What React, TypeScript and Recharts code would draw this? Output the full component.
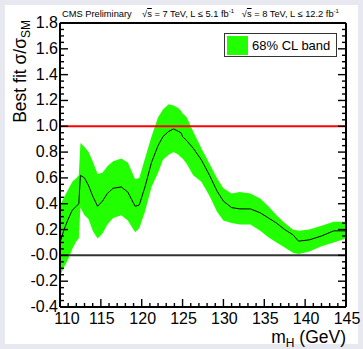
import React from 'react';
import { ComposedChart, Area, Line, XAxis, YAxis, ReferenceLine, Legend } from 'recharts';

// best fit signal strength vs Higgs mass
const masses = [110, 110.5, 111, 111.5, 112, 112.3, 112.5, 113, 113.5, 114, 114.6, 115.2, 115.8, 116.5, 117.5, 118.3, 119.2, 119.7, 120.4, 121.2, 122, 122.6, 123.3, 123.9, 124.5, 124.8, 125, 125.5, 126.3, 127.3, 128.3, 129.2, 130, 131, 132, 133.3, 134.5, 135.5, 136.5, 137.5, 138.5, 139.2, 140.5, 142, 143.5, 145];
const bestFit = [0.10, 0.20, 0.28, 0.35, 0.38, 0.40, 0.62, 0.60, 0.54, 0.46, 0.38, 0.42, 0.48, 0.52, 0.53, 0.49, 0.38, 0.39, 0.53, 0.72, 0.85, 0.92, 0.96, 0.98, 0.96, 0.95, 0.92, 0.89, 0.83, 0.74, 0.62, 0.50, 0.42, 0.37, 0.36, 0.36, 0.33, 0.29, 0.25, 0.20, 0.16, 0.11, 0.12, 0.15, 0.19, 0.19];
const bandLow = [-0.16, -0.09, -0.03, 0.05, 0.11, 0.13, 0.37, 0.31, 0.28, 0.19, 0.13, 0.17, 0.24, 0.29, 0.31, 0.27, 0.18, 0.21, 0.34, 0.53, 0.64, 0.74, 0.78, 0.80, 0.78, 0.76, 0.75, 0.71, 0.62, 0.57, 0.46, 0.34, 0.27, 0.25, 0.24, 0.24, 0.19, 0.14, 0.10, 0.06, 0.02, 0.01, 0.03, 0.07, 0.10, 0.13];
const bandHigh = [0.39, 0.45, 0.51, 0.57, 0.60, 0.62, 0.87, 0.84, 0.80, 0.73, 0.63, 0.64, 0.69, 0.73, 0.75, 0.72, 0.59, 0.60, 0.75, 0.92, 1.07, 1.13, 1.17, 1.16, 1.14, 1.12, 1.10, 1.07, 0.96, 0.83, 0.71, 0.60, 0.52, 0.48, 0.49, 0.48, 0.44, 0.38, 0.31, 0.25, 0.20, 0.19, 0.20, 0.23, 0.26, 0.26];

const xMajorTicks = [110, 115, 120, 125, 130, 135, 140, 145];
const yMajorTicks = [-0.4, -0.2, 0, 0.2, 0.4, 0.6, 0.8, 1.0, 1.2, 1.4, 1.6, 1.8];
const yTickLabels = ['-0.4', '-0.2', '-0.0', '0.2', '0.4', '0.6', '0.8', '1.0', '1.2', '1.4', '1.6', '1.8'];
const bandName = '68% CL band';

const data = masses.map((m, i) => ({ m, best: bestFit[i], band: [bandLow[i], bandHigh[i]] }));

const round = (v: number) => Math.round(v * 1000) / 1000;
const xTicks = xMajorTicks.flatMap((t, i) =>
  i < xMajorTicks.length - 1 ? [0, 1, 2, 3, 4].map((k) => t + k) : [t]
);
const yTicks = yMajorTicks.flatMap((t, i) =>
  i < yMajorTicks.length - 1 ? [0, 1, 2, 3].map((k) => round(t + k * 0.05)) : [t]
);
const yLabel = (v: number) => {
  const i = yMajorTicks.findIndex((t) => Math.abs(t - v) < 1e-6);
  return i >= 0 ? yTickLabels[i] : null;
};
const isXMajor = (v: number) => xMajorTicks.includes(v);

const FONT = '"Liberation Sans", Arial, Helvetica, sans-serif';
const GREEN = '#22ff00';
const TICK = { stroke: '#000', strokeWidth: 1.4 };

const LeftTick = (p: any) => {
  const lab = yLabel(p.payload.value);
  return (
    <g>
      <line x1={p.x} x2={p.x + (lab ? 8 : 4)} y1={p.y} y2={p.y} {...TICK} />
      {lab && (
        <text x={p.x - 2} y={p.y} dy={5} textAnchor="end" fontSize={16} fontFamily={FONT} fill="#000">
          {lab}
        </text>
      )}
    </g>
  );
};
const RightTick = (p: any) => {
  const major = yLabel(p.payload.value) !== null;
  return <line x1={p.x} x2={p.x - (major ? 8 : 4)} y1={p.y} y2={p.y} {...TICK} />;
};
const BottomTick = (p: any) => {
  const major = isXMajor(p.payload.value);
  // first label sits a little right of its tick, as in the original
  const nudge = p.payload.value === xMajorTicks[0] ? 7 : 1;
  return (
    <g>
      <line x1={p.x} x2={p.x} y1={p.y} y2={p.y - (major ? 8 : 4)} {...TICK} />
      {major && (
        <text x={p.x + nudge} y={p.y + 17} textAnchor="middle" fontSize={16} fontFamily={FONT} fill="#000">
          {p.payload.value}
        </text>
      )}
    </g>
  );
};
const TopTick = (p: any) => {
  const major = isXMajor(p.payload.value);
  return <line x1={p.x} x2={p.x} y1={p.y} y2={p.y + (major ? 8 : 4)} {...TICK} />;
};

const YTitle = () => (
  <text transform="translate(26,20) rotate(-90)" textAnchor="end" fontSize={17.5} fontFamily={FONT} fill="#000">
    Best fit σ/σ
    <tspan fontSize={12} dy={4}>SM</tspan>
  </text>
);
const XTitle = () => (
  <text x={346} y={343} textAnchor="end" fontSize={17.5} fontFamily={FONT} fill="#000">
    m<tspan fontSize={12} dy={4}>H</tspan>
    <tspan dy={-4}> (GeV)</tspan>
  </text>
);

const LegendBox = () => (
  <div
    style={{
      boxSizing: 'border-box',
      width: 113,
      height: 24,
      border: '1.5px solid #333',
      background: '#fff',
      display: 'flex',
      alignItems: 'center',
      fontFamily: FONT,
      fontSize: 13,
      color: '#000',
    }}
  >
    <div style={{ width: 21, height: 19, background: GREEN, marginLeft: 2, marginRight: 4 }} />
    <span>{bandName}</span>
  </div>
);

const Header = () => (
  <div
    style={{
      position: 'absolute',
      left: 62,
      top: 8,
      fontFamily: FONT,
      fontSize: 9.3,
      whiteSpace: 'nowrap',
      color: '#000',
    }}
  >
    CMS Preliminary&nbsp;&nbsp;&nbsp;
    √<span style={{ textDecoration: 'overline' }}>s</span> = 7 TeV, L ≤ 5.1 fb<sup style={{ fontSize: 6 }}>-1</sup>&nbsp;&nbsp;
    √<span style={{ textDecoration: 'overline' }}>s</span> = 8 TeV, L ≤ 12.2 fb<sup style={{ fontSize: 6 }}>-1</sup>
  </div>
);

export default function App() {
  return (
    <div style={{ position: 'absolute', left: 0, top: 0, width: 363, height: 349, background: '#e8e9f0' }}>
      <div style={{ position: 'absolute', left: 5, top: 5, width: 353, height: 339, background: '#fff' }} />
      <div style={{ position: 'absolute', left: 0, top: 0 }}>
        <ComposedChart width={363} height={349} data={data} margin={{ top: 0, right: 0, bottom: 22, left: 0 }}>
          <XAxis
            dataKey="m"
            type="number"
            domain={[110, 145]}
            ticks={xTicks}
            interval={0}
            allowDataOverflow
            height={20}
            tickSize={0}
            tickMargin={0}
            tickLine={false}
            axisLine={{ stroke: '#000', strokeWidth: 2 }}
            tick={BottomTick}
            label={{ content: XTitle }}
          />
          <XAxis
            xAxisId="top"
            orientation="top"
            type="number"
            domain={[110, 145]}
            ticks={xTicks}
            interval={0}
            allowDataOverflow
            height={23}
            tickSize={0}
            tickMargin={0}
            tickLine={false}
            axisLine={{ stroke: '#000', strokeWidth: 2 }}
            tick={TopTick}
          />
          <YAxis
            type="number"
            domain={[-0.4, 1.8]}
            ticks={yTicks}
            interval={0}
            allowDataOverflow
            width={60}
            tickSize={0}
            tickMargin={0}
            tickLine={false}
            axisLine={{ stroke: '#000', strokeWidth: 2 }}
            tick={LeftTick}
            label={{ content: YTitle }}
          />
          <YAxis
            yAxisId="right"
            orientation="right"
            type="number"
            domain={[-0.4, 1.8]}
            ticks={yTicks}
            interval={0}
            allowDataOverflow
            width={17}
            tickSize={0}
            tickMargin={0}
            tickLine={false}
            axisLine={{ stroke: '#000', strokeWidth: 2 }}
            tick={RightTick}
          />
          <Area
            dataKey="band"
            name={bandName}
            type="linear"
            stroke="none"
            fill={GREEN}
            fillOpacity={1}
            isAnimationActive={false}
          />
          <Line dataKey="best" type="linear" stroke="#000" strokeWidth={1} dot={false} legendType="none" isAnimationActive={false} />
          <ReferenceLine y={1} stroke="#ff0000" strokeWidth={2} />
          <ReferenceLine y={0} stroke="#333" strokeWidth={2} />
          <Legend
            layout="horizontal"
            verticalAlign="middle"
            align="center"
            content={LegendBox}
            wrapperStyle={{ left: 224, top: 33, width: 113, height: 24 }}
          />
        </ComposedChart>
      </div>
      <Header />
    </div>
  );
}
